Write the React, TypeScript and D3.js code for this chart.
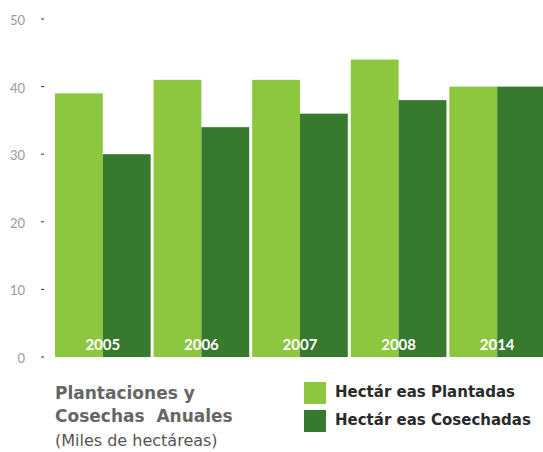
import React from "react";
import * as d3 from "d3";

const years = ["2005", "2006", "2007", "2008", "2014"];
const planted = [39, 41, 41, 44, 40];
const harvested = [30, 34, 36, 38, 40];
const yTicks = [0, 10, 20, 30, 40, 50];
const seriesNames = ["Hectár eas Plantadas", "Hectár eas Cosechadas"];
const colors = ["#8dc63f", "#37792e"];

export default function App() {
  const W = 543, H = 452;
  const y = d3.scaleLinear().domain([0, 50]).range([357, 19]);
  const x = d3.scaleBand().domain(years).range([55, 545]).paddingInner(0.03).paddingOuter(0);
  const sub = d3.scaleBand().domain(["p", "h"]).range([0, x.bandwidth()]);
  const font = "'DejaVu Sans', sans-serif";
  return (
    <svg width={W} height={H} style={{ position: "absolute", left: 0, top: 0 }} fontFamily={font}>
      {yTicks.map((t) => (
        <g key={t}>
          <text x={25} y={y(t) + 6} textAnchor="end" fontSize={13} fill="#999" fontFamily="Lato, sans-serif">{t}</text>
          <line x1={41} x2={44} y1={y(t)} y2={y(t)} stroke="#333" strokeWidth={1} />
        </g>
      ))}
      {years.map((yr, i) => (
        <g key={yr} transform={`translate(${x(yr)},0)`}>
          <rect x={sub("p")} y={y(planted[i])} width={sub.bandwidth()} height={y(0) - y(planted[i])} fill={colors[0]} />
          <rect x={sub("h")} y={y(harvested[i])} width={sub.bandwidth()} height={y(0) - y(harvested[i])} fill={colors[1]} />
          <text x={x.bandwidth() / 2} y={350} textAnchor="middle" fontSize={15} fontWeight="bold" fill="#fff" fontFamily="Lato, sans-serif">{yr}</text>
        </g>
      ))}
      <text x={55} y={399} fontSize={17} fontWeight="bold" fill="#666">Plantaciones y</text>
      <text x={55} y={422} fontSize={17} fontWeight="bold" fill="#666" style={{ whiteSpace: "pre" }}>Cosechas  Anuales</text>
      <text x={55} y={446} fontSize={16} fill="#555">(Miles de hectáreas)</text>
      {seriesNames.map((s, i) => (
        <g key={s}>
          <rect x={304} y={382 + i * 28} width={22} height={22} fill={colors[i]} />
          <text x={335} y={397 + i * 28} fontSize={15} fontWeight="bold" fill="#2a2a2a">{s}</text>
        </g>
      ))}
    </svg>
  );
}
